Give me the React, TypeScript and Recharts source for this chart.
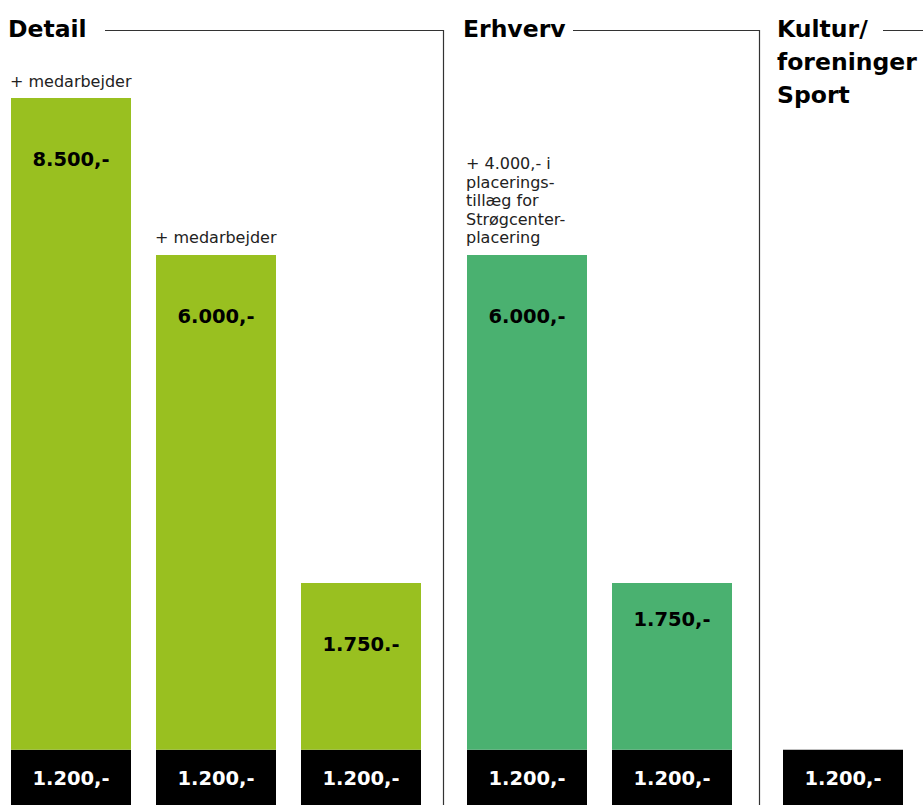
import { BarChart, Bar, XAxis, YAxis, LabelList } from 'recharts';

// fast grundbeløb i bunden af hver søjle
const baseAmount = '1.200,-';
const baseHeight = 7.8;

// tillæg oven på grundbeløbet (højder i tegningens egen skala, 0-100)
const detailAmounts = ['8.500,-', '6.000,-', '1.750.-'];
const detailHeights = [92.2, 70, 23.6];
const detailNotes = ['+ medarbejder', '+ medarbejder', ''];

const erhvervAmounts = ['6.000,-', '1.750,-'];
const erhvervHeights = [70, 23.6];
const erhvervNotes = ['+ 4.000,- i\nplacerings-\ntillæg for\nStrøgcenter-\nplacering', ''];

const kulturAmounts = [''];
const kulturHeights = [0];
const kulturNotes = [''];

const LIME = '#99c020';
const GREEN = '#4ab170';
const FONT = '"DejaVu Sans", sans-serif';

function buildRows(amounts: string[], heights: number[], notes: string[]) {
  return amounts.map((amount, i) => ({
    name: `s${i}`,
    base: baseHeight,
    top: heights[i],
    amount,
    note: notes[i],
    baseLabel: baseAmount,
  }));
}

function amountLabel(offsets: number[]) {
  return (props: any) => {
    const { x, y, width, value, index } = props;
    if (!value) return null;
    return (
      <text
        x={x + width / 2}
        y={y + offsets[index]}
        textAnchor="middle"
        dominantBaseline="central"
        fontFamily={FONT}
        fontWeight="bold"
        fontSize={19.5}
        fill="#000"
      >
        {value}
      </text>
    );
  };
}

const baseLabel = (props: any) => {
  const { x, y, width, value } = props;
  return (
    <text
      x={x + width / 2}
      y={y + 29}
      textAnchor="middle"
      dominantBaseline="central"
      fontFamily={FONT}
      fontWeight="bold"
      fontSize={19.5}
      fill="#fff"
    >
      {value}
    </text>
  );
};

const noteLabel = (props: any) => {
  const { x, y, value } = props;
  if (!value) return null;
  const lines = String(value).split('\n');
  const lineH = 18.6;
  const last = y - 11.5;
  return (
    <text x={x - 1} fontFamily={FONT} fontSize={16} fill="#222">
      {lines.map((l, i) => (
        <tspan key={i} x={x - 1} y={last - (lines.length - 1 - i) * lineH}>
          {l}
        </tspan>
      ))}
    </text>
  );
};

function GroupChart({
  left,
  width,
  color,
  amounts,
  heights,
  notes,
  offsets,
}: {
  left: number;
  width: number;
  color: string;
  amounts: string[];
  heights: number[];
  notes: string[];
  offsets: number[];
}) {
  const rows = buildRows(amounts, heights, notes);
  const hasTop = heights.some((h) => h > 0);
  return (
    <div style={{ position: 'absolute', left, top: 0 }}>
      <BarChart
        width={width}
        height={805}
        data={rows}
        margin={{ top: 98, right: 0, bottom: 0, left: 0 }}
        barSize={120}
      >
        <XAxis dataKey="name" hide />
        <YAxis hide domain={[0, 100]} />
        <Bar dataKey="base" stackId="a" fill="#000" isAnimationActive={false}>
          <LabelList dataKey="baseLabel" content={baseLabel} />
        </Bar>
        {hasTop && (
          <Bar dataKey="top" stackId="a" fill={color} isAnimationActive={false}>
            <LabelList dataKey="amount" content={amountLabel(offsets)} />
            <LabelList dataKey="note" content={noteLabel} />
          </Bar>
        )}
      </BarChart>
    </div>
  );
}

export default function App() {
  return (
    <div
      style={{
        position: 'absolute',
        left: 0,
        top: 0,
        width: 923,
        height: 805,
        overflow: 'hidden',
        background: '#fff',
      }}
    >
      <GroupChart
        left={-2.5}
        width={435}
        color={LIME}
        amounts={detailAmounts}
        heights={detailHeights}
        notes={detailNotes}
        offsets={[61, 61.5, 61]}
      />
      <GroupChart
        left={453.5}
        width={290}
        color={GREEN}
        amounts={erhvervAmounts}
        heights={erhvervHeights}
        notes={erhvervNotes}
        offsets={[61.5, 36.5]}
      />
      <GroupChart
        left={769.5}
        width={145}
        color={GREEN}
        amounts={kulturAmounts}
        heights={kulturHeights}
        notes={kulturNotes}
        offsets={[0]}
      />
      <svg
        width={923}
        height={805}
        style={{ position: 'absolute', left: 0, top: 0, pointerEvents: 'none' }}
      >
        <g stroke="#333" strokeWidth={1.2} fill="none">
          <polyline points="105,30.5 443.5,30.5 443.5,805" />
          <polyline points="573,30.5 759.5,30.5 759.5,805" />
          <line x1={883} y1={30.5} x2={923} y2={30.5} />
        </g>
        <g fontFamily={FONT} fontWeight="bold" fontSize={23.5} fill="#000">
          <text x={8} y={36.5}>Detail</text>
          <text x={463} y={36.5}>Erhverv</text>
          <text x={777}>
            <tspan x={777} y={36.5}>Kultur/</tspan>
            <tspan x={777} y={70}>foreninger</tspan>
            <tspan x={777} y={103}>Sport</tspan>
          </text>
        </g>
      </svg>
    </div>
  );
}
